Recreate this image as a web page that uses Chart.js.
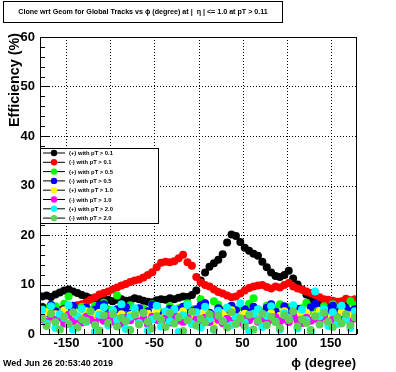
<!DOCTYPE html>
<html>
<head>
<meta charset="utf-8">
<script src="https://cdn.jsdelivr.net/npm/chart.js@4/dist/chart.umd.min.js"></script>
<style>
  html, body { margin: 0; padding: 0; background: #fff; }
  canvas { display: block; }
</style>
</head>
<body>
<canvas id="effChart" width="396" height="372"></canvas>
<script>
// phi bin centres (degree), 5 degree bins
const phiBins = [
  -177.5, -172.5, -167.5, -162.5, -157.5, -152.5, -147.5, -142.5, -137.5, -132.5, -127.5, -122.5,
  -117.5, -112.5, -107.5, -102.5, -97.5, -92.5, -87.5, -82.5, -77.5, -72.5, -67.5, -62.5,
  -57.5, -52.5, -47.5, -42.5, -37.5, -32.5, -27.5, -22.5, -17.5, -12.5, -7.5, -2.5,
  2.5, 7.5, 12.5, 17.5, 22.5, 27.5, 32.5, 37.5, 42.5, 47.5, 52.5, 57.5,
  62.5, 67.5, 72.5, 77.5, 82.5, 87.5, 92.5, 97.5, 102.5, 107.5, 112.5, 117.5,
  122.5, 127.5, 132.5, 137.5, 142.5, 147.5, 152.5, 157.5, 162.5, 167.5, 172.5, 177.5
];

// efficiency (%) per bin
const posPt01 = [
  7.6, 7.8, 7.5, 8.0, 8.4, 8.8, 9.0, 8.6, 8.3, 7.9, 7.6, 7.2,
  7.0, 6.8, 7.1, 6.9, 6.6, 6.9, 7.0, 6.7, 6.8, 7.2, 7.0, 6.7,
  6.5, 6.4, 6.8, 7.0, 6.9, 7.2, 7.0, 7.3, 7.6, 7.5, 7.9, 8.8,
  10.8, 12.4, 13.6, 14.3, 15.0, 16.1, 18.5, 20.1, 19.8, 18.6, 17.4, 16.8,
  16.2, 15.8, 14.6, 13.5, 12.4, 11.7, 11.5, 11.9, 12.8, 11.2, 10.0, 9.0,
  8.0, 7.1, 6.5, 6.2, 6.0, 6.1, 5.9, 6.0, 6.2, 6.3, 6.6, 6.4
];
const negPt01 = [
  4.6, 4.3, 4.8, 4.5, 4.9, 5.0, 5.3, 5.5, 5.8, 6.0, 6.4, 6.9,
  7.4, 8.0, 8.3, 8.6, 9.0, 9.4, 9.8, 10.1, 10.5, 10.8, 11.0, 11.4,
  11.9, 12.5, 13.5, 14.4, 14.6, 14.5, 14.7, 15.3, 16.0, 14.5, 13.8, 11.5,
  10.4, 9.9, 9.6, 9.0, 8.5, 8.2, 7.8, 7.4, 7.6, 8.2, 8.8, 9.3,
  9.6, 9.8, 9.9, 9.5, 9.2, 9.6, 9.4, 9.9, 10.3, 9.6, 9.2, 9.0,
  8.6, 8.3, 7.9, 7.4, 7.0, 6.9, 6.7, 6.5, 6.6, 7.1, 6.8, 7.0
];
const posPt05 = [
  4.8, 5.2, 3.9, 5.6, 4.4, 6.1, 7.6, 5.0, 4.2, 5.5, 3.8, 4.9,
  5.7, 4.1, 6.3, 5.0, 4.6, 7.8, 5.2, 4.0, 5.8, 4.5, 3.6, 5.1,
  4.7, 6.0, 5.3, 4.4, 3.9, 5.6, 4.8, 5.2, 4.3, 6.2, 5.0, 4.6,
  7.0, 5.4, 4.1, 6.6, 5.9, 4.8, 5.3, 4.5, 3.8, 5.5, 4.9, 6.1,
  7.2, 5.0, 4.4, 5.7, 4.2, 5.1, 6.0, 4.6, 5.4, 3.9, 4.8, 5.2,
  6.3, 4.5, 5.0, 4.1, 5.6, 4.7, 6.0, 5.3, 4.4, 5.1, 6.6, 5.8
];
const negPt05 = [
  5.5, 4.2, 5.9, 4.6, 3.8, 5.1, 4.4, 5.7, 4.0, 4.8, 5.3, 3.6,
  4.9, 5.8, 6.0, 4.3, 3.9, 5.0, 4.5, 5.4, 4.1, 4.7, 5.2, 3.7,
  4.6, 5.9, 5.6, 4.0, 4.4, 5.1, 3.8, 4.9, 5.5, 4.2, 4.7, 5.0,
  5.8, 6.2, 4.3, 3.9, 5.2, 4.6, 4.1, 5.7, 4.8, 3.6, 5.0, 4.4,
  5.5, 4.9, 4.0, 5.3, 6.0, 4.5, 3.8, 5.6, 4.7, 4.2, 5.1, 4.6,
  3.9, 5.4, 6.1, 4.8, 4.3, 5.0, 5.7, 4.4, 3.9, 5.2, 4.6, 5.0
];
const posPt10 = [
  3.6, 4.4, 2.9, 4.0, 3.3, 4.8, 3.7, 2.6, 4.2, 3.5, 4.6, 3.0,
  3.9, 4.3, 2.8, 3.6, 4.7, 3.2, 4.0, 2.7, 3.8, 4.5, 3.4, 2.9,
  4.1, 3.6, 4.9, 3.1, 3.7, 4.3, 2.6, 3.9, 4.6, 3.3, 2.8, 4.0,
  3.5, 4.4, 3.0, 2.5, 3.8, 4.2, 3.4, 4.8, 2.9, 3.6, 4.1, 3.2,
  3.9, 4.5, 2.7, 3.5, 4.2, 3.0, 3.7, 4.6, 3.3, 2.8, 4.0, 3.6,
  4.3, 3.1, 3.8, 4.7, 3.4, 2.9, 4.1, 3.5, 4.4, 3.0, 3.8, 4.2
];
const negPt10 = [
  3.0, 2.4, 3.6, 2.8, 3.3, 2.1, 3.9, 2.6, 3.1, 2.3, 3.5, 2.9,
  2.2, 3.4, 2.7, 3.8, 2.5, 3.0, 2.1, 3.3, 2.8, 3.6, 2.4, 3.1,
  2.0, 3.5, 2.9, 2.6, 3.2, 2.3, 3.7, 2.8, 2.5, 3.4, 2.1, 3.0,
  2.7, 3.3, 2.4, 3.8, 2.9, 2.2, 3.1, 2.6, 3.5, 2.3, 3.0, 2.8,
  3.6, 2.5, 3.2, 2.1, 2.9, 3.4, 2.6, 3.0, 2.4, 3.7, 2.8, 2.2,
  3.3, 2.7, 3.1, 2.5, 3.6, 2.3, 2.9, 3.4, 2.6, 3.0, 2.4, 3.2
];
const posPt20 = [
  4.9, 2.1, 5.6, 1.2, 4.0, 3.3, 5.8, 0.9, 3.6, 5.1, 2.4, 4.5,
  0.5, 3.9, 5.4, 1.7, 4.8, 2.9, 6.0, 1.0, 3.5, 5.2, 2.2, 4.3,
  0.7, 3.0, 5.7, 1.5, 4.6, 2.6, 5.0, 0.4, 3.8, 5.9, 2.0, 4.4,
  1.3, 5.5, 3.1, 0.8, 4.7, 2.7, 5.3, 1.8, 3.4, 6.2, 2.3, 0.6,
  4.1, 5.0, 1.4, 3.7, 5.6, 2.5, 0.9, 4.2, 3.2, 5.8, 1.1, 4.9,
  2.8, 0.5, 8.6, 3.6, 5.1, 1.6, 4.4, 2.0, 5.7, 3.0, 1.2, 4.6
];
const negPt20 = [
  3.2, 1.6, 4.1, 2.4, 0.9, 3.5, 2.0, 4.4, 1.3, 3.0, 2.7, 4.6,
  1.8, 0.7, 3.8, 2.2, 4.0, 1.5, 3.3, 2.6, 0.8, 3.9, 1.9, 4.3,
  2.5, 1.1, 3.6, 2.9, 1.4, 4.2, 2.1, 3.4, 0.6, 2.8, 4.5, 1.7,
  3.1, 2.3, 4.0, 1.0, 3.7, 2.6, 1.3, 4.4, 2.0, 3.2, 1.6, 3.9,
  0.9, 2.7, 4.1, 1.8, 3.5, 2.4, 1.2, 3.8, 2.9, 4.6, 1.5, 3.0,
  2.2, 0.8, 3.6, 1.9, 4.3, 2.5, 1.4, 3.3, 2.1, 4.0, 1.7, 3.4
];

const seriesLabels = [
  "(+) with pT > 0.1", "(-) with pT > 0.1", "(+) with pT > 0.5", "(-) with pT > 0.5",
  "(+) with pT > 1.0", "(-) with pT > 1.0", "(+) with pT > 2.0", "(-) with pT > 2.0"
];
const seriesValues = [posPt01, negPt01, posPt05, negPt05, posPt10, negPt10, posPt20, negPt20];
const seriesColors = ["#000000", "#ff0000", "#00ff00", "#0000ff", "#ffff00", "#ff00ff", "#00ffff", "#59d454"];

const titleText = "Clone wrt Geom for Global Tracks vs \u03d5 (degree) at |  \u03b7 | <= 1.0 at pT > 0.11";
const dateText = "Wed Jun 26 20:53:40 2019";
const FONT = "'Liberation Sans', Arial, sans-serif";

function fitFont(ctx, text, size, target) {
  ctx.font = "bold " + size + "px " + FONT;
  const w = ctx.measureText(text).width;
  const s = size * target / w;
  ctx.font = "bold " + s.toFixed(2) + "px " + FONT;
}

// ROOT-like frame, dotted grid, inside ticks, title box, legend box
const rootStyle = {
  id: "rootStyle",
  beforeDatasetsDraw(chart) {
    const { ctx, chartArea: a, scales: { x, y } } = chart;
    ctx.save();
    ctx.strokeStyle = "#000";
    ctx.lineWidth = 1;
    ctx.setLineDash([1, 2]);
    for (let v = -150; v <= 150; v += 50) {
      const px = Math.round(x.getPixelForValue(v)) + 0.5;
      ctx.beginPath(); ctx.moveTo(px, a.top); ctx.lineTo(px, a.bottom); ctx.stroke();
    }
    for (let v = 10; v <= 50; v += 10) {
      const py = Math.round(y.getPixelForValue(v)) + 0.5;
      ctx.beginPath(); ctx.moveTo(a.left, py); ctx.lineTo(a.right, py); ctx.stroke();
    }
    ctx.restore();
  },
  afterDraw(chart) {
    const { ctx, chartArea: a, scales: { x, y } } = chart;
    ctx.save();
    ctx.strokeStyle = "#000";
    ctx.lineWidth = 1;
    ctx.setLineDash([]);
    // frame
    ctx.strokeRect(Math.round(a.left) + 0.5, Math.round(a.top) + 0.5,
      Math.round(a.right - a.left) - 1, Math.round(a.bottom - a.top));
    // y ticks
    for (let v = 0; v <= 60; v += 2) {
      const py = Math.round(y.getPixelForValue(v)) + 0.5;
      const len = v % 10 === 0 ? 10 : 5;
      ctx.beginPath(); ctx.moveTo(a.left, py); ctx.lineTo(a.left + len, py); ctx.stroke();
    }
    // x ticks
    for (let v = -180; v <= 180; v += 10) {
      const px = Math.round(x.getPixelForValue(v)) + 0.5;
      const len = v % 50 === 0 ? 10 : 5;
      ctx.beginPath(); ctx.moveTo(px, a.bottom); ctx.lineTo(px, a.bottom - len); ctx.stroke();
    }

    // title box
    ctx.fillStyle = "#fff";
    ctx.fillRect(3.5, 1.5, 279, 21);
    ctx.strokeRect(3.5, 1.5, 279, 21);
    ctx.fillStyle = "#000";
    fitFont(ctx, titleText, 7, 250);
    ctx.textAlign = "center";
    ctx.textBaseline = "middle";
    ctx.fillText(titleText, 143, 12.5);

    // legend box
    ctx.fillStyle = "#fff";
    ctx.fillRect(40.5, 148.5, 118, 75);
    ctx.strokeRect(40.5, 148.5, 118, 75);
    fitFont(ctx, seriesLabels[0], 7, 44);
    ctx.textAlign = "left";
    seriesLabels.forEach((lab, i) => {
      const ly = 153 + i * 9.3;
      ctx.strokeStyle = "#000";
      ctx.beginPath(); ctx.moveTo(43, ly); ctx.lineTo(65, ly); ctx.stroke();
      ctx.fillStyle = seriesColors[i];
      ctx.beginPath(); ctx.arc(54, ly, 3.2, 0, Math.PI * 2); ctx.fill();
      ctx.fillStyle = "#000";
      ctx.fillText(lab, 69, ly + 0.5);
    });

    // axis titles
    ctx.font = "bold 13px " + FONT;
    ctx.textAlign = "right";
    ctx.textBaseline = "alphabetic";
    ctx.fillText("\u03d5 (degree)", 356, 367);
    ctx.save();
    ctx.translate(18.5, 33);
    ctx.rotate(-Math.PI / 2);
    fitFont(ctx, "Efficiency (%)", 13, 94);
    ctx.fillText("Efficiency (%)", 0, 0);
    ctx.restore();

    // date stamp
    fitFont(ctx, dateText, 8, 110);
    ctx.textAlign = "left";
    ctx.fillText(dateText, 3, 366);
    ctx.restore();
  }
};

const datasets = seriesValues.map((vals, i) => ({
  label: seriesLabels[i],
  data: vals.map((v, k) => ({ x: phiBins[k], y: v })),
  backgroundColor: seriesColors[i],
  borderColor: seriesColors[i],
  pointRadius: 4,
  pointBorderWidth: 0,
  showLine: false,
  order: seriesValues.length - i // later series drawn on top, as in ROOT
}));

new Chart(document.getElementById("effChart"), {
  type: "scatter",
  data: { datasets: datasets },
  options: {
    responsive: false,
    animation: false,
    layout: { padding: { top: 37, right: 39, left: 0, bottom: 0 } },
    plugins: { legend: { display: false }, tooltip: { enabled: false }, title: { display: false } },
    scales: {
      x: {
        type: "linear",
        min: -180,
        max: 180,
        grid: { display: false, drawTicks: false },
        border: { display: false },
        ticks: {
          stepSize: 50,
          includeBounds: false,
          autoSkip: false,
          maxRotation: 0,
          padding: 2,
          color: "#000",
          font: { family: FONT, weight: "bold", size: 13 }
        },
        afterFit(scale) { scale.height = 38; }
      },
      y: {
        min: 0,
        max: 60,
        grid: { display: false, drawTicks: false },
        border: { display: false },
        ticks: {
          stepSize: 10,
          padding: 5,
          color: "#000",
          font: { family: FONT, weight: "bold", size: 13 }
        },
        afterFit(scale) { scale.width = 40; }
      }
    }
  },
  plugins: [rootStyle]
});
</script>
</body>
</html>
